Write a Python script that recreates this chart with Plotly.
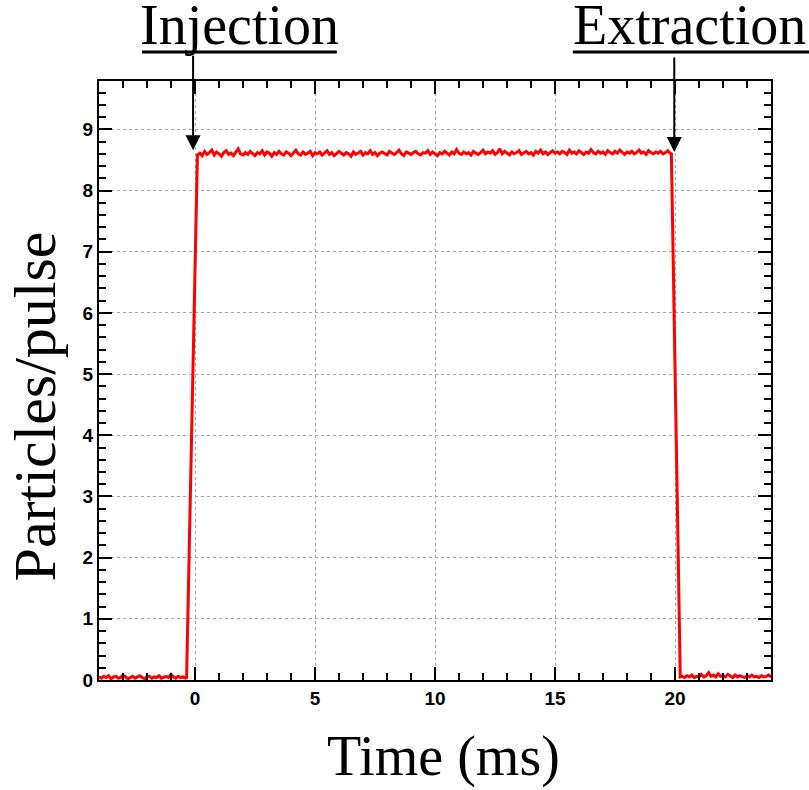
import plotly.graph_objects as go

# ---- data ----
# baseline before injection, sampled every 0.1 ms from -4.0 ms
pre_start, pre_step = -4.0, 0.1
pre_vals = [0.05, 0.03, 0.06, 0.04, 0.07, 0.02, 0.05, 0.06, 0.03, 0.04,
            0.08, 0.05, 0.02, 0.04, 0.06, 0.03, 0.05, 0.07, 0.04, 0.02,
            0.05, 0.06, 0.03, 0.05, 0.04, 0.07, 0.03, 0.05, 0.06, 0.04,
            0.09, 0.05, 0.03, 0.06, 0.04, 0.05, 0.03]
# rising edge
rise_t = [-0.35, 0.1]
rise_v = [0.04, 8.58]
# plateau, sampled every 0.1 ms from 0.2 ms
flat_start, flat_step = 0.2, 0.1
flat_vals = [8.61, 8.57, 8.64, 8.59, 8.62, 8.66, 8.58, 8.63, 8.60, 8.56,
             8.62, 8.65, 8.59, 8.61, 8.57, 8.63, 8.68, 8.60, 8.58, 8.62,
             8.59, 8.64, 8.61, 8.57, 8.62, 8.60, 8.65, 8.58, 8.63, 8.61,
             8.56, 8.62, 8.59, 8.64, 8.60, 8.58, 8.63, 8.61, 8.57, 8.62,
             8.66, 8.60, 8.58, 8.63, 8.59, 8.61, 8.64, 8.57, 8.62, 8.60,
             8.63, 8.58, 8.61, 8.65, 8.59, 8.62, 8.57, 8.60, 8.64, 8.61,
             8.58, 8.62, 8.60, 8.56, 8.63, 8.59, 8.61, 8.64, 8.58, 8.62,
             8.60, 8.65, 8.59, 8.62, 8.57, 8.61, 8.63, 8.60, 8.58, 8.64,
             8.61, 8.59, 8.62, 8.66, 8.60, 8.57, 8.63, 8.61, 8.59, 8.62,
             8.64, 8.60, 8.58, 8.62, 8.61, 8.65, 8.59, 8.63, 8.60, 8.57,
             8.62, 8.60, 8.64, 8.61, 8.58, 8.63, 8.60, 8.67, 8.61, 8.59,
             8.63, 8.60, 8.62, 8.58, 8.64, 8.61, 8.59, 8.62, 8.66, 8.60,
             8.63, 8.61, 8.65, 8.59, 8.62, 8.68, 8.60, 8.64, 8.61, 8.58,
             8.63, 8.60, 8.62, 8.65, 8.59, 8.61, 8.64, 8.60, 8.62, 8.58,
             8.64, 8.61, 8.66, 8.60, 8.63, 8.59, 8.62, 8.65, 8.61, 8.63,
             8.60, 8.64, 8.62, 8.59, 8.66, 8.61, 8.63, 8.60, 8.65, 8.62,
             8.59, 8.63, 8.61, 8.67, 8.62, 8.60, 8.64, 8.61, 8.63, 8.59,
             8.65, 8.62, 8.60, 8.64, 8.61, 8.66, 8.62, 8.59, 8.63, 8.61,
             8.64, 8.60, 8.62, 8.66, 8.61, 8.63, 8.59, 8.65, 8.62, 8.60,
             8.63, 8.61, 8.64, 8.60, 8.62, 8.65, 8.61]
# falling edge
fall_t = [19.85, 20.22]
fall_v = [8.60, 0.05]
# baseline after extraction, sampled every 0.1 ms from 20.3 ms
post_start, post_step = 20.3, 0.1
post_vals = [0.06, 0.04, 0.07, 0.05, 0.08, 0.04, 0.06, 0.05, 0.09, 0.05,
             0.07, 0.12, 0.06, 0.08, 0.05, 0.10, 0.06, 0.07, 0.05, 0.09,
             0.06, 0.04, 0.08, 0.05, 0.07, 0.06, 0.04, 0.07, 0.05, 0.08,
             0.05, 0.06, 0.04, 0.07, 0.05, 0.06, 0.08, 0.05]

x_ticks = [0, 5, 10, 15, 20]
y_ticks = [0, 1, 2, 3, 4, 5, 6, 7, 8, 9]
x_range = [-4, 24]
y_range = [0, 9.79]

x_title = "Time (ms)"
y_title = "Particles/pulse"
labels = ["Injection", "Extraction"]
arrow_x = [-0.08, 19.97]
arrow_y = [8.66, 8.63]


def sampled(start, step, vals):
    return [round(start + i * step, 3) for i in range(len(vals))]


t = (sampled(pre_start, pre_step, pre_vals) + rise_t
     + sampled(flat_start, flat_step, flat_vals) + fall_t
     + sampled(post_start, post_step, post_vals))
v = pre_vals + rise_v + flat_vals + fall_v + post_vals

fig = go.Figure()
fig.add_trace(go.Scatter(x=t, y=v, mode="lines",
                         line=dict(color="#ff0000", width=3),
                         showlegend=False, hoverinfo="skip"))

serif = "Liberation Serif"
tickfont = dict(family="Liberation Sans", size=19, color="black", weight="bold")

axis_common = dict(
    showline=True, linecolor="black", linewidth=2, mirror="allticks",
    ticks="inside", tickcolor="black", tickwidth=1.5, ticklen=13,
    showgrid=True, gridcolor="#a5a5a5", griddash="dot", gridwidth=1,
    zeroline=False, tickfont=tickfont,
)

fig.update_xaxes(range=x_range, tickvals=x_ticks,
                 minor=dict(dtick=1, ticks="inside", ticklen=7, tickcolor="black",
                            showgrid=False),
                 **axis_common)
fig.update_yaxes(range=y_range, tickvals=y_ticks,
                 minor=dict(dtick=0.2, ticks="inside", ticklen=7, tickcolor="black",
                            showgrid=False),
                 **axis_common)

# axis titles as annotations for exact placement
fig.add_annotation(x=0.512, y=-0.128, xref="paper", yref="paper", text=x_title,
                   showarrow=False, xanchor="center", yanchor="middle",
                   font=dict(family=serif, size=56, color="black"))
fig.add_annotation(x=-0.095, y=0.457, xref="paper", yref="paper", text=y_title,
                   showarrow=False, xanchor="center", yanchor="middle", textangle=-90,
                   font=dict(family=serif, size=60, color="black"))

# label texts (paper coordinates) and their underlines
text_pos = [0.209, 0.879]
under_x0 = [0.064, 0.705]
under_x1 = [0.354, 1.058]
for lab, xp, u0, u1 in zip(labels, text_pos, under_x0, under_x1):
    fig.add_annotation(x=xp, y=1.0384, xref="paper", yref="paper", text=lab,
                       showarrow=False, yanchor="bottom", xanchor="center",
                       font=dict(family=serif, size=56, color="black"))
    fig.add_shape(type="line", xref="paper", yref="paper", x0=u0, x1=u1,
                  y0=1.0484, y1=1.0484, line=dict(color="black", width=3))

for ax_, ay_ in zip(arrow_x, arrow_y):
    fig.add_annotation(x=ax_, y=ay_, xref="x", yref="y", text="", showarrow=True,
                       ax=0, ay=-96, arrowhead=2, arrowwidth=2, arrowsize=1.5,
                       arrowcolor="black", standoff=0)

fig.update_layout(
    width=809, height=790,
    margin=dict(l=99, r=38, t=81, b=110),
    paper_bgcolor="white", plot_bgcolor="white",
)

fig.write_html("out.html", config={"displayModeBar": False},
               post_script="document.body.style.margin='0px';")
